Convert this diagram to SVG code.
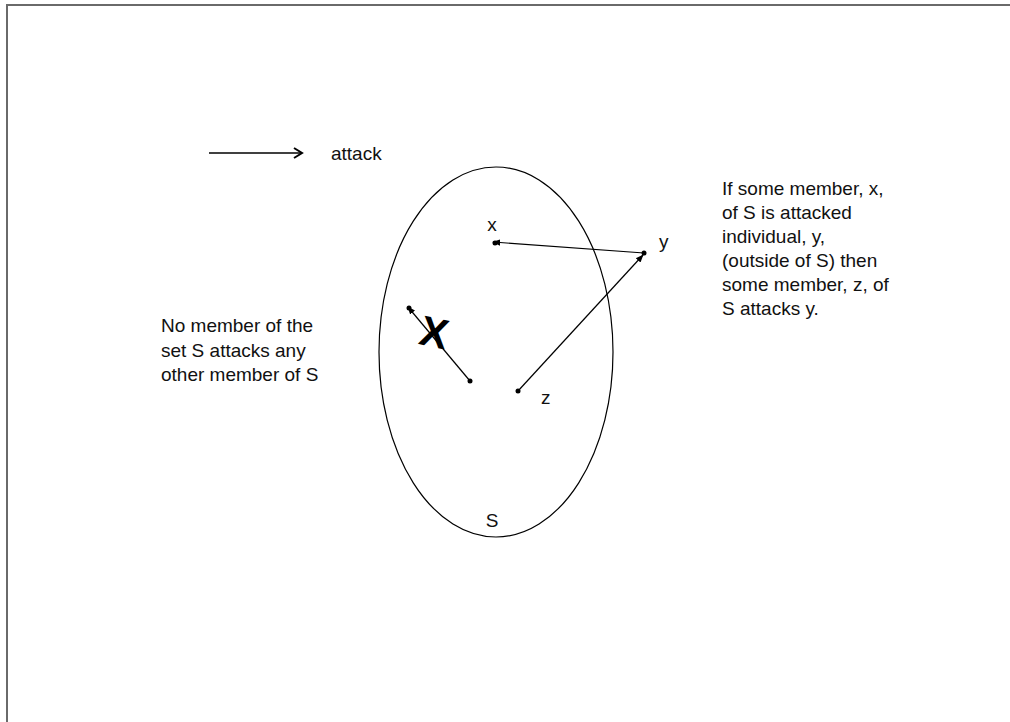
<svg xmlns="http://www.w3.org/2000/svg" width="1010" height="722" viewBox="0 0 1010 722">
<defs>
<style>
.t{font-family:"Liberation Sans",Arial,sans-serif;font-size:19px;fill:#111}
.c{stroke:#000;stroke-width:1.2;fill:none}
.d{fill:#000}
</style>
<marker id="ah" viewBox="0 0 10 10" refX="9" refY="5" markerWidth="8" markerHeight="8" markerUnits="userSpaceOnUse" orient="auto">
<path d="M0,1 L10,5 L0,9 Z" fill="#000"/>
</marker>
<marker id="open" viewBox="0 0 12 12" refX="10" refY="6" markerWidth="12" markerHeight="12" markerUnits="userSpaceOnUse" orient="auto">
<path d="M2,1 L10,6 L2,11" fill="none" stroke="#000" stroke-width="2"/>
</marker>
</defs>
<rect width="1010" height="722" fill="#fff"/>
<path d="M7,722 L7,5 L1010,5" fill="none" stroke="#6a6a6a" stroke-width="2"/>

<g id="legend">
<line x1="209" y1="153" x2="302" y2="153" stroke="#000" stroke-width="1.5" marker-end="url(#open)"/>
<text class="t" x="331" y="160">attack</text>
</g>

<g id="set-S">
<ellipse cx="496" cy="352" rx="117" ry="185" fill="none" stroke="#000" stroke-width="1.2"/>
<text class="t" x="492" y="527" text-anchor="middle">S</text>
</g>

<g id="node-x">
<circle class="d" cx="495" cy="243" r="2.5"/>
<text class="t" x="492" y="231" text-anchor="middle">x</text>
</g>
<g id="node-y">
<circle class="d" cx="644" cy="253" r="2.5"/>
<text class="t" x="659" y="248">y</text>
</g>
<g id="node-z">
<circle class="d" cx="518" cy="391" r="2.5"/>
<text class="t" x="541" y="404">z</text>
</g>
<g id="node-a">
<circle class="d" cx="409" cy="308" r="2.5"/>
</g>
<g id="node-b">
<circle class="d" cx="470" cy="381" r="2.5"/>
</g>

<g id="connectors">
<line class="c" x1="644" y1="253" x2="493" y2="242" marker-end="url(#ah)"/>
<line class="c" x1="518" y1="391" x2="643" y2="255" marker-end="url(#ah)"/>
<line class="c" x1="470" y1="381" x2="408" y2="307" marker-end="url(#ah)"/>
</g>

<g id="cross">
<text x="434" y="347" text-anchor="middle" transform="rotate(12 434 333)" style="font-family:'Liberation Sans',Arial,sans-serif;font-weight:bold;font-size:42px;fill:#000">X</text>
</g>

<g id="note-left">
<text class="t" x="161" y="332">No member of the</text>
<text class="t" x="161" y="357">set S attacks any</text>
<text class="t" x="161" y="381">other member of S</text>
</g>

<g id="note-right">
<text class="t" x="722" y="195">If some member, x,</text>
<text class="t" x="722" y="219">of S is attacked</text>
<text class="t" x="722" y="243">individual, y,</text>
<text class="t" x="722" y="267">(outside of S) then</text>
<text class="t" x="722" y="291">some member, z, of</text>
<text class="t" x="722" y="315">S attacks y.</text>
</g>
</svg>
